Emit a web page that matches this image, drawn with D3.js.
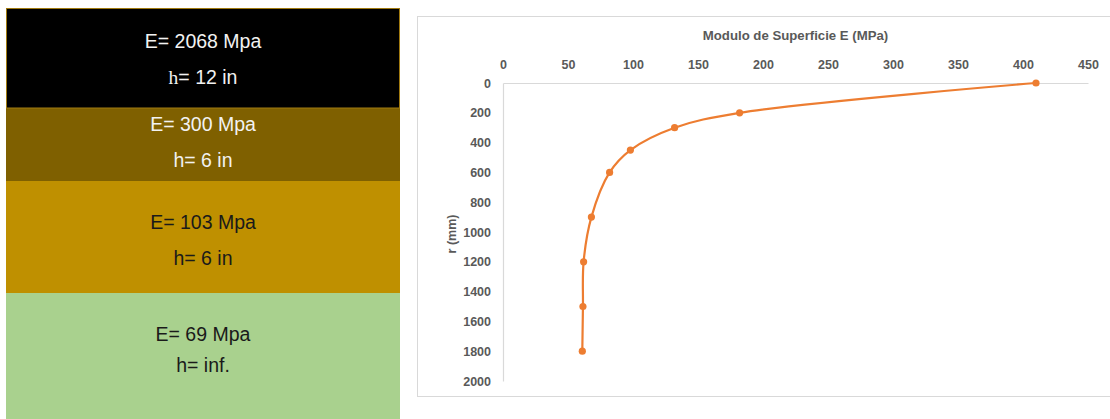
<!DOCTYPE html>
<html>
<head>
<meta charset="utf-8">
<script src="https://cdn.jsdelivr.net/npm/d3@7"></script>
<style>
  html, body { margin: 0; padding: 0; background: #fff; }
  svg { display: block; }
</style>
</head>
<body>
<svg id="fig" width="1110" height="419"></svg>
<script>
// Pavement layers (top to bottom)
const layerModulus = [2068, 300, 103, 69];
const layerThickness = ["12 in", "6 in", "6 in", "inf."];

// Surface modulus profile
const radius = [0, 200, 300, 450, 600, 900, 1200, 1500, 1800];      // r (mm)
const surfaceModulus = [410, 182, 132, 98, 82, 68, 62, 61.5, 61];   // E (MPa)

// Axis ticks
const xTicks = [0, 50, 100, 150, 200, 250, 300, 350, 400, 450];
const yTicks = [0, 200, 400, 600, 800, 1000, 1200, 1400, 1600, 1800, 2000];

const svg = d3.select("#fig");

// ---------- layered profile panel ----------
const layerFill = ["#000000", "#7f6000", "#bf9000", "#a9d18e"];
const layerInk = ["#f2f2f2", "#f2f2f2", "#1a1a1a", "#1a1a1a"];
const layerTop = [8.5, 108, 181, 293];
const layerBottom = [108, 181, 293, 419];
const lineGap = [[48, 84], [131, 167], [229, 265], [341, 372]];
const panelX0 = 6, panelX1 = 400;
const midX = (panelX0 + panelX1) / 2;

const layers = svg.append("g").attr("class", "layers");
layerModulus.forEach((e, i) => {
  layers.append("rect")
    .attr("x", panelX0).attr("y", layerTop[i])
    .attr("width", panelX1 - panelX0)
    .attr("height", layerBottom[i] - layerTop[i])
    .attr("fill", layerFill[i]);
  const t = layers.append("g")
    .attr("font-family", "Liberation Sans, Arial, sans-serif")
    .attr("font-size", 19.5)
    .attr("fill", layerInk[i])
    .attr("text-anchor", "middle");
  t.append("text").attr("x", midX).attr("y", lineGap[i][0]).text(`E= ${e} Mpa`);
  const h = t.append("text").attr("x", midX).attr("y", lineGap[i][1]);
  if (i === 0) {
    h.append("tspan").attr("font-family", "Liberation Serif, serif").text("h");
    h.append("tspan").text(`= ${layerThickness[i]}`);
  } else {
    h.text(`h= ${layerThickness[i]}`);
  }
});
// thin outline around the top layer
layers.append("rect")
  .attr("x", panelX0 + 0.5).attr("y", layerTop[0])
  .attr("width", panelX1 - panelX0 - 1).attr("height", layerBottom[0] - layerTop[0])
  .attr("fill", "none").attr("stroke", "#a07a10").attr("stroke-width", 1);

// ---------- modulus chart ----------
svg.append("rect")
  .attr("x", 417.5).attr("y", 16.5)
  .attr("width", 720).attr("height", 380)
  .attr("fill", "#fff").attr("stroke", "#d9d9d9").attr("stroke-width", 1);

const x = d3.scaleLinear().domain([0, 450]).range([503, 1088]);
const y = d3.scaleLinear().domain([0, 2000]).range([83, 381]);

const labelFont = "Liberation Sans, Arial, sans-serif";
const grey = "#595959";

const xAxis = svg.append("g")
  .attr("transform", `translate(0,${y(0)})`)
  .call(d3.axisTop(x).tickValues(xTicks).tickFormat(d3.format("d")).tickSize(0).tickPadding(14));
xAxis.select(".domain").attr("stroke", "#d9d9d9").attr("stroke-width", 1.2);
xAxis.selectAll("text")
  .attr("font-family", labelFont).attr("font-size", 12.5)
  .attr("font-weight", "bold").attr("fill", grey);

const yAxis = svg.append("g")
  .attr("transform", `translate(${x(0)},0)`)
  .call(d3.axisLeft(y).tickValues(yTicks).tickFormat(d3.format("d")).tickSize(0).tickPadding(12));
yAxis.select(".domain").attr("stroke", "#d9d9d9").attr("stroke-width", 1.2);
yAxis.selectAll("text")
  .attr("font-family", labelFont).attr("font-size", 12.5)
  .attr("font-weight", "bold").attr("fill", grey);

svg.append("text")
  .attr("x", (x(0) + x(450)) / 2).attr("y", 40)
  .attr("text-anchor", "middle")
  .attr("font-family", labelFont).attr("font-size", 13.2)
  .attr("font-weight", "bold").attr("fill", grey)
  .text("Modulo de Superficie E (MPa)");

svg.append("text")
  .attr("transform", `translate(456,${(y(0) + y(2000)) / 2 + 2}) rotate(-90)`)
  .attr("text-anchor", "middle")
  .attr("font-family", labelFont).attr("font-size", 12.5)
  .attr("font-weight", "bold").attr("fill", grey)
  .text("r (mm)");

const pts = radius.map((r, i) => ({ r, e: surfaceModulus[i] }));
const orange = "#ed7d31";

svg.append("path")
  .datum(pts)
  .attr("fill", "none")
  .attr("stroke", orange)
  .attr("stroke-width", 2.2)
  .attr("d", d3.line().x(d => x(d.e)).y(d => y(d.r)).curve(d3.curveCatmullRom.alpha(0.5)));

svg.append("g").selectAll("circle")
  .data(pts).join("circle")
  .attr("cx", d => x(d.e)).attr("cy", d => y(d.r))
  .attr("r", 3.6).attr("fill", orange);
</script>
</body>
</html>
